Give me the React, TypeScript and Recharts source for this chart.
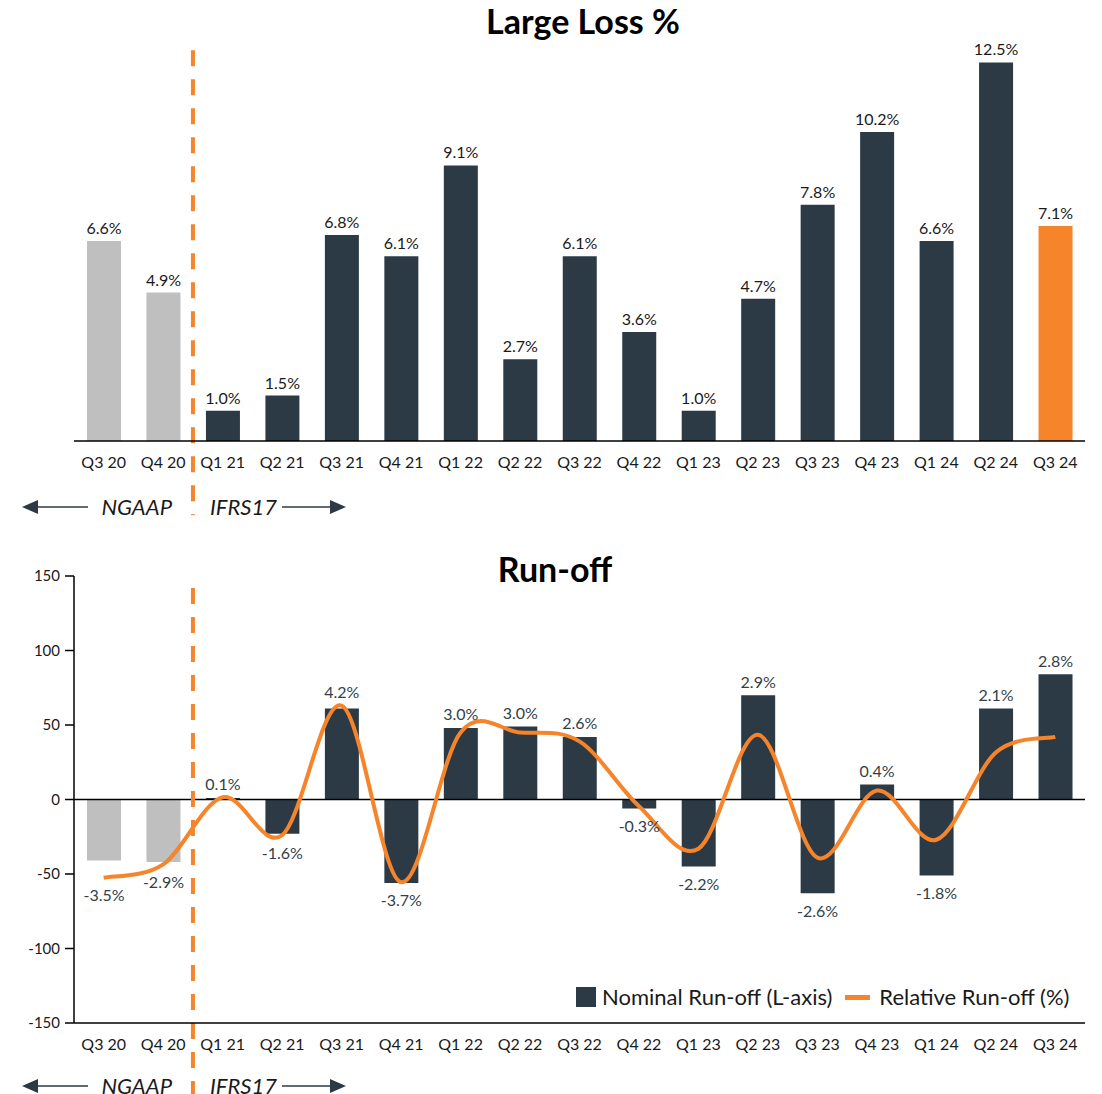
import React from "react";
import {
  BarChart,
  ComposedChart,
  Bar,
  Line,
  XAxis,
  YAxis,
  Cell,
  LabelList,
  ReferenceLine,
  Legend,
} from "recharts";

const quarters = [
  "Q3 20", "Q4 20", "Q1 21", "Q2 21", "Q3 21", "Q4 21", "Q1 22", "Q2 22", "Q3 22",
  "Q4 22", "Q1 23", "Q2 23", "Q3 23", "Q4 23", "Q1 24", "Q2 24", "Q3 24",
];
const largeLoss = [6.6, 4.9, 1.0, 1.5, 6.8, 6.1, 9.1, 2.7, 6.1, 3.6, 1.0, 4.7, 7.8, 10.2, 6.6, 12.5, 7.1];
const nominalRunoff = [-41, -42, 1, -23, 61, -56, 48, 49, 42, -6, -45, 70, -63, 10, -51, 61, 84];
const relativeRunoff = [-3.5, -2.9, 0.1, -1.6, 4.2, -3.7, 3.0, 3.0, 2.6, -0.3, -2.2, 2.9, -2.6, 0.4, -1.8, 2.1, 2.8];
const runoffTicks = [-150, -100, -50, 0, 50, 100, 150];

const lossData = quarters.map((quarter, i) => ({ quarter, loss: largeLoss[i] }));
const runoffData = quarters.map((quarter, i) => ({
  quarter,
  nominal: nominalRunoff[i],
  relative: relativeRunoff[i],
}));

const DARK = "#2c3a45";
const GREY = "#bfbfbf";
const ORANGE = "#f5842a";
const TEXT = "#1a1a1a";
const FONT = "Lato, 'Open Sans', sans-serif";
const SPLIT = "Q4 20";

// ngaap quarters grey, current quarter orange on the loss chart
const barColour = (i: number, highlightLast: boolean) => {
  if (i < 2) return GREY;
  if (highlightLast && i === quarters.length - 1) return ORANGE;
  return DARK;
};

// excel style smoothed line (catmull-rom through the points)
const excelSmooth = (context: any) => {
  let pts: number[][] = [];
  return {
    areaStart() {},
    areaEnd() {},
    lineStart() {
      pts = [];
    },
    point(x: number, y: number) {
      pts.push([+x, +y]);
    },
    lineEnd() {
      if (!pts.length) return;
      context.moveTo(pts[0][0], pts[0][1]);
      for (let i = 0; i < pts.length - 1; i++) {
        const p0 = pts[i - 1] || pts[i];
        const p1 = pts[i];
        const p2 = pts[i + 1];
        const p3 = pts[i + 2] || p2;
        context.bezierCurveTo(
          p1[0] + (p2[0] - p0[0]) / 6,
          p1[1] + (p2[1] - p0[1]) / 6,
          p2[0] - (p3[0] - p1[0]) / 6,
          p2[1] - (p3[1] - p1[1]) / 6,
          p2[0],
          p2[1]
        );
      }
    },
  };
};

const pct = (v: number) => `${v.toFixed(1)}%`;

// labels sit outside both the bar and the orange line
const RunoffLabel = (props: any) => {
  const vb = props.viewBox || props;
  const { x, y, width, height } = vb;
  const index = props.index;
  const nominal = nominalRunoff[index];
  const rel = relativeRunoff[index];
  const top = Math.min(y, y + height);
  const bottom = Math.max(y, y + height);
  const ppu = Math.abs(height) / Math.max(Math.abs(nominal), 0.001);
  const zero = nominal >= 0 ? bottom : top;
  const lineY = zero - rel * 15 * ppu;
  const cy = nominal >= 0 ? Math.min(top, lineY) - 14 : Math.max(bottom, lineY) + 17;
  return (
    <text
      x={x + width / 2}
      y={cy}
      textAnchor="middle"
      dominantBaseline="central"
      fontSize={16}
      fill="#333f48"
      fontFamily={FONT}
    >
      {pct(rel)}
    </text>
  );
};

const RunoffLegend = () => (
  <div style={{ display: "flex", alignItems: "center", fontFamily: FONT, fontSize: 22, color: TEXT, whiteSpace: "nowrap", lineHeight: "22px" }}>
    <span style={{ display: "inline-block", width: 20, height: 20, background: DARK, marginRight: 6 }} />
    <span>Nominal Run-off (L-axis)</span>
    <span style={{ display: "inline-block", width: 25, height: 5, background: ORANGE, marginLeft: 13, marginRight: 9 }} />
    <span>Relative Run-off (%)</span>
  </div>
);

const Regime = ({ y }: { y: number }) => (
  <g>
    <line x1={36} y1={y} x2={88} y2={y} stroke={DARK} strokeWidth={1.5} />
    <polygon points={`22,${y} 38,${y - 7} 38,${y + 7}`} fill={DARK} />
    <text x={172} y={y + 8} textAnchor="end" fontSize={22} fontStyle="italic" fill={TEXT} fontFamily={FONT}>
      NGAAP
    </text>
    <text x={210} y={y + 8} fontSize={22} fontStyle="italic" fill={TEXT} fontFamily={FONT}>
      IFRS17
    </text>
    <line x1={282} y1={y} x2={332} y2={y} stroke={DARK} strokeWidth={1.5} />
    <polygon points={`330,${y - 7} 346,${y} 330,${y + 7}`} fill={DARK} />
  </g>
);

const titleStyle = (left: number, top: number): React.CSSProperties => ({
  position: "absolute",
  left,
  top,
  transform: "translate(-50%, -50%)",
  fontFamily: FONT,
  fontWeight: 700,
  fontSize: 34,
  color: "#000",
  whiteSpace: "nowrap",
});

export default function App() {
  return (
    <div style={{ position: "absolute", left: 0, top: 0, width: 1102, height: 1094, background: "#fff", overflow: "hidden" }}>
      <div style={{ position: "absolute", left: 0, top: 0 }}>
        <BarChart width={1102} height={530} data={lossData} margin={{ top: 17, right: 17, left: 74, bottom: 59 }}>
          <XAxis
            dataKey="quarter"
            axisLine={{ stroke: "#000", strokeWidth: 1.5 }}
            tickLine={false}
            tickSize={0}
            tickMargin={16}
            interval={0}
            tick={{ fontSize: 16, fill: TEXT, fontFamily: FONT }}
          />
          <YAxis hide domain={[0, 14]} />
          <Bar dataKey="loss" barSize={34} isAnimationActive={false}>
            {lossData.map((d, i) => (
              <Cell key={d.quarter} fill={barColour(i, true)} />
            ))}
            <LabelList
              dataKey="loss"
              position="top"
              offset={7}
              formatter={(v: any) => pct(Number(v))}
              style={{ fontSize: 16, fill: TEXT, fontFamily: FONT }}
            />
          </Bar>
          <ReferenceLine
            segment={[{ x: SPLIT, y: 12.9 }, { x: SPLIT, y: -2.45 }]}
            position="end"
            ifOverflow="visible"
            stroke={ORANGE}
            strokeWidth={4}
            strokeDasharray="16 13"
          />
        </BarChart>
      </div>

      <div style={{ position: "absolute", left: 0, top: 540 }}>
        <ComposedChart width={1102} height={554} data={runoffData} margin={{ top: 36, right: 17, left: 0, bottom: 41 }}>
          <XAxis
            dataKey="quarter"
            axisLine={{ stroke: "#000", strokeWidth: 1.5 }}
            tickLine={false}
            tickSize={0}
            tickMargin={16}
            interval={0}
            tick={{ fontSize: 16, fill: TEXT, fontFamily: FONT }}
          />
          <YAxis
            yAxisId="left"
            width={74}
            domain={[-150, 150]}
            ticks={runoffTicks}
            axisLine={{ stroke: "#000", strokeWidth: 1.5 }}
            tickLine={{ stroke: "#000", strokeWidth: 1.5 }}
            tickSize={9}
            tickMargin={5}
            tick={{ fontSize: 15, fill: TEXT, fontFamily: FONT }}
          />
          <YAxis yAxisId="right" orientation="right" hide domain={[-10, 10]} />
          <ReferenceLine yAxisId="left" y={0} stroke="#000" strokeWidth={1.5} />
          <Bar yAxisId="left" dataKey="nominal" name="Nominal Run-off (L-axis)" barSize={34} isAnimationActive={false}>
            {runoffData.map((d, i) => (
              <Cell key={d.quarter} fill={barColour(i, false)} />
            ))}
            <LabelList dataKey="relative" content={RunoffLabel} />
          </Bar>
          <Line
            yAxisId="right"
            dataKey="relative"
            name="Relative Run-off (%)"
            type={excelSmooth as any}
            stroke={ORANGE}
            strokeWidth={4}
            dot={false}
            activeDot={false}
            isAnimationActive={false}
          />
          <ReferenceLine
            yAxisId="left"
            segment={[{ x: SPLIT, y: 142 }, { x: SPLIT, y: -200 }]}
            position="end"
            ifOverflow="visible"
            stroke={ORANGE}
            strokeWidth={4}
            strokeDasharray="16 13"
          />
          <Legend
            layout="horizontal"
            verticalAlign="middle"
            align="center"
            wrapperStyle={{ left: 576, top: 446, width: 520, height: 22 }}
            content={RunoffLegend}
          />
        </ComposedChart>
      </div>

      <div style={titleStyle(583, 20)}>Large Loss %</div>
      <div style={titleStyle(555, 568)}>Run-off</div>

      <svg width={1102} height={1094} style={{ position: "absolute", left: 0, top: 0, pointerEvents: "none" }}>
        <Regime y={507} />
        <Regime y={1086} />
      </svg>
    </div>
  );
}
